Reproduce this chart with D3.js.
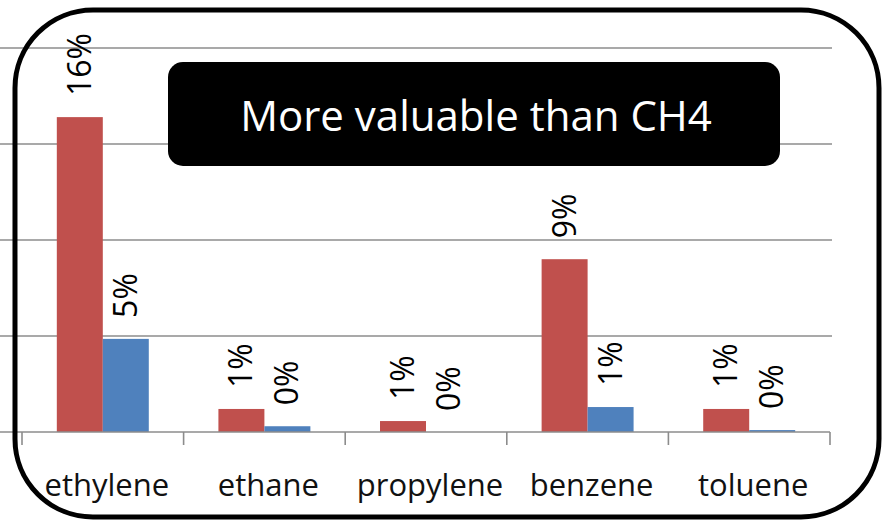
<!DOCTYPE html>
<html>
<head>
<meta charset="utf-8">
<script src="https://cdn.jsdelivr.net/npm/d3@7"></script>
<style>
  html, body { margin: 0; padding: 0; background: #fff; }
  svg { display: block; }
</style>
</head>
<body>
<svg id="chart" width="885" height="526"></svg>
<script>
// Share of product by compound, two series
const categories = ["ethylene", "ethane", "propylene", "benzene", "toluene"];
const seriesKeys = ["red", "blue"];
const redValues  = [0.164, 0.012, 0.0057, 0.090, 0.012];
const blueValues = [0.0485, 0.003, 0.0, 0.013, 0.001];
const gridTicks  = [0.05, 0.10, 0.15, 0.20];
const calloutText = "More valuable than CH4";

const colors = { red: "#C0504D", blue: "#4F81BD" };
const font = "'Open Sans', 'Noto Sans', sans-serif";

const rows = categories.map((c, i) => ({ category: c, red: redValues[i], blue: blueValues[i] }));

const svg = d3.select("#chart");

const x = d3.scaleBand().domain(categories).range([22, 830]).paddingInner(0).paddingOuter(0);
const x1 = d3.scaleBand().domain(seriesKeys).range([0, x.bandwidth()]).paddingInner(0).paddingOuter(0.757);
const y = d3.scaleLinear().domain([0, 0.2]).range([432, 48]);
const fmt = d3.format(".0%");

// gridlines
svg.append("g")
  .selectAll("line")
  .data(gridTicks)
  .join("line")
  .attr("x1", 0).attr("x2", 832)
  .attr("y1", d => y(d)).attr("y2", d => y(d))
  .attr("stroke", "#8c8c8c").attr("stroke-width", 1.6);

// bars
const groups = svg.append("g")
  .selectAll("g")
  .data(rows)
  .join("g")
  .attr("transform", d => `translate(${x(d.category)},0)`);

groups.selectAll("rect")
  .data(d => seriesKeys.map(k => ({ key: k, value: d[k] })))
  .join("rect")
  .attr("x", d => x1(d.key))
  .attr("width", x1.bandwidth())
  .attr("y", d => y(d.value))
  .attr("height", d => y(0) - y(d.value))
  .attr("fill", d => colors[d.key]);

// value labels, rotated above each bar
groups.selectAll("text")
  .data(d => seriesKeys.map(k => ({ key: k, value: d[k] })))
  .join("text")
  .attr("transform", d => `translate(${x1(d.key) + x1.bandwidth() / 2 + 11},${y(d.value) - 21}) rotate(-90)`)
  .attr("font-family", font)
  .attr("font-size", 32)
  .attr("fill", "#000")
  .text(d => fmt(d.value));

// category axis with boundary ticks
const axis = svg.append("g");
axis.append("line")
  .attr("x1", 0).attr("x2", 830)
  .attr("y1", y(0)).attr("y2", y(0))
  .attr("stroke", "#8c8c8c").attr("stroke-width", 1.6);
const bounds = categories.map(c => x(c)).concat([x.range()[1]]);
axis.selectAll("line.tick")
  .data(bounds)
  .join("line")
  .attr("class", "tick")
  .attr("x1", d => d).attr("x2", d => d)
  .attr("y1", y(0)).attr("y2", y(0) + 13)
  .attr("stroke", "#8c8c8c").attr("stroke-width", 1.6);
axis.selectAll("text")
  .data(categories)
  .join("text")
  .attr("x", d => x(d) + x.bandwidth() / 2 + 4)
  .attr("y", 496)
  .attr("text-anchor", "middle")
  .attr("font-family", font)
  .attr("font-size", 31)
  .attr("fill", "#111")
  .text(d => d);

// callout
svg.append("rect")
  .attr("x", 168).attr("y", 62)
  .attr("width", 612).attr("height", 104)
  .attr("rx", 15)
  .attr("fill", "#000");
svg.append("text")
  .attr("x", 476).attr("y", 131)
  .attr("text-anchor", "middle")
  .attr("font-family", font)
  .attr("font-size", 42)
  .attr("fill", "#fff")
  .text(calloutText);

// rounded frame
svg.append("rect")
  .attr("x", 15).attr("y", 10)
  .attr("width", 864).attr("height", 507)
  .attr("rx", 78)
  .attr("fill", "none")
  .attr("stroke", "#000")
  .attr("stroke-width", 5);
</script>
</body>
</html>
